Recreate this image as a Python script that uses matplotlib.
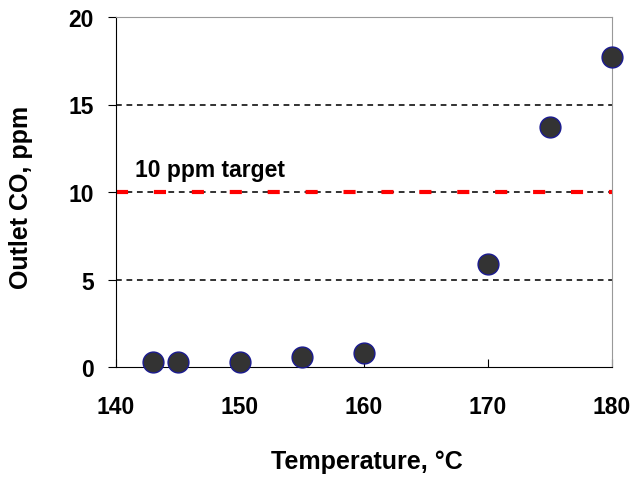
import matplotlib.pyplot as plt

temperature = [143, 145, 150, 155, 160, 170, 175, 180]
outlet_co = [0.3, 0.3, 0.3, 0.6, 0.8, 5.9, 13.7, 17.7]
target = 10

plt.rcParams['font.family'] = ['Liberation Sans', 'DejaVu Sans']
plt.rcParams['font.weight'] = 'bold'

fig = plt.figure(figsize=(6.31, 4.81), dpi=100)
ax = fig.add_axes([116 / 631, 1 - 368 / 481, 496 / 631, 350 / 481])

for y in [5, 10, 15]:
    ax.axhline(y, color='#222222', lw=1.3, ls=(0, (3.2, 2.6)), zorder=1)
ax.axhline(target, color='red', lw=3, ls=(0, (2.9, 6.2)), zorder=2, clip_on=False)
ax.text(141.5, target + 0.6, '10 ppm target', fontsize=16.5, fontweight='bold',
        va='bottom', ha='left')

ax.plot(temperature, outlet_co, 'o', ms=15, mfc='#333333', mec='#1a1a90',
        mew=1, clip_on=False, zorder=3)

ax.set_xlim(140, 180)
ax.set_ylim(0, 20)
ax.set_xticks([140, 150, 160, 170, 180])
ax.set_yticks([0, 5, 10, 15, 20])
ax.tick_params(axis='x', direction='in', length=6, labelsize=16.5, pad=20)
ax.tick_params(axis='y', direction='out', length=6, labelsize=16.5, pad=10)
for lbl in ax.get_xticklabels() + ax.get_yticklabels():
    lbl.set_fontweight('bold')

ax.spines['top'].set_color('#999999')
ax.spines['right'].set_color('#999999')
ax.spines['left'].set_color('black')
ax.spines['bottom'].set_color('black')

fig.text(367 / 631, 1 - 462 / 481, 'Temperature, °C', ha='center', va='center',
         fontsize=18, fontweight='bold')
fig.text(21 / 631, 1 - 197 / 481, 'Outlet CO, ppm', ha='center', va='center',
         rotation=90, fontsize=18, fontweight='bold')

fig.savefig('out.png', dpi=100)
